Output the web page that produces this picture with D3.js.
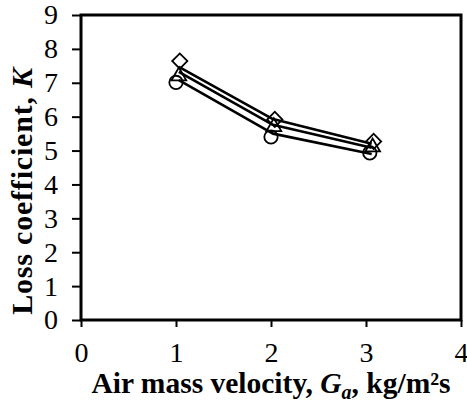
<!DOCTYPE html>
<html><head><meta charset="utf-8">
<script src="https://cdn.jsdelivr.net/npm/d3@7"></script>
<style>body{margin:0;background:#fff}svg{display:block}</style>
</head><body>
<script>
// Data
const markerX = [1.03, 2.03, 3.07];
const diamondK = [7.64, 5.92, 5.27];
const triangleK = [7.2, 5.7, 5.1];
const circleK = [7.01, 5.40, 4.93];
const lineX = [1.03, 2.02, 3.06];
const lineTop = [7.47, 5.93, 5.20];
const lineMid = [7.32, 5.76, 5.08];
const lineBot = [7.08, 5.50, 4.90];
const xTicks = [0, 1, 2, 3, 4];
const yTicks = [0, 1, 2, 3, 4, 5, 6, 7, 8, 9];

const W = 467, H = 410;
const m = {left: 81, right: 6, top: 15, bottom: 90};
const svg = d3.select("body").append("svg").attr("width", W).attr("height", H);
const x = d3.scaleLinear().domain([0, 4]).range([m.left, W - m.right]);
const y = d3.scaleLinear().domain([0, 9]).range([H - m.bottom, m.top]);
const font = "'Liberation Serif','Times New Roman',serif";

// axes
const xAxis = svg.append("g").attr("transform", `translate(0,${H - m.bottom})`)
  .call(d3.axisBottom(x).tickValues(xTicks).tickSize(7).tickPadding(15).tickFormat(d3.format("d")));
const yAxis = svg.append("g").attr("transform", `translate(${m.left},0)`)
  .call(d3.axisLeft(y).tickValues(yTicks).tickSize(9).tickPadding(14).tickFormat(d3.format("d")));
[xAxis, yAxis].forEach(a => {
  a.select(".domain").remove();
  a.selectAll(".tick line").attr("stroke", "#000").attr("stroke-width", 2);
  a.selectAll("text").attr("font-family", font).attr("font-size", 28).attr("fill", "#000");
});

// frame
svg.append("rect").attr("x", x(0)).attr("y", y(9)).attr("width", x(4) - x(0)).attr("height", y(0) - y(9))
  .attr("fill", "none").attr("stroke", "#000").attr("stroke-width", 3);

// markers
const g = svg.append("g").attr("fill", "none").attr("stroke", "#000").attr("stroke-width", 1.8);
const sym = (type, size) => d3.symbol().type(type).size(size)();
g.selectAll(".c").data(markerX).join("path")
  .attr("transform", (d, i) => `translate(${x(d - 0.03)},${y(circleK[i])})`)
  .attr("d", sym(d3.symbolCircle, 140));
g.selectAll(".t").data(markerX).join("path")
  .attr("transform", (d, i) => `translate(${x(d)},${y(triangleK[i])})`)
  .attr("d", sym(d3.symbolTriangle, 95));
g.selectAll(".dm").data(markerX).join("path")
  .attr("transform", (d, i) => `translate(${x(d + 0.01)},${y(diamondK[i])}) rotate(45)`)
  .attr("d", sym(d3.symbolSquare, 115));

// lines
const line = d3.line().x((d, i) => x(lineX[i])).y(d => y(d));
[lineTop, lineMid, lineBot].forEach(s => {
  svg.append("path").datum(s).attr("d", line).attr("fill", "none")
    .attr("stroke", "#000").attr("stroke-width", 2.6).attr("stroke-linejoin", "round");
});

// titles
const xt = svg.append("text").attr("x", (x(0) + x(4)) / 2).attr("y", 393)
  .attr("text-anchor", "middle").attr("font-family", font).attr("font-size", 29.5).attr("font-weight", "bold");
xt.append("tspan").text("Air mass velocity, ");
xt.append("tspan").attr("font-style", "italic").text("G");
xt.append("tspan").attr("font-style", "italic").attr("font-size", 20).attr("dy", 6).text("a");
xt.append("tspan").attr("dy", -6).text(", kg/m²s");

const yt = svg.append("text").attr("transform", `translate(32,191) rotate(-90)`)
  .attr("text-anchor", "middle").attr("font-family", font).attr("font-size", 30).attr("font-weight", "bold")
  .attr("letter-spacing", 0.8);
yt.append("tspan").text("Loss coefficient, ");
yt.append("tspan").attr("font-style", "italic").text("K");
</script>
</body></html>
